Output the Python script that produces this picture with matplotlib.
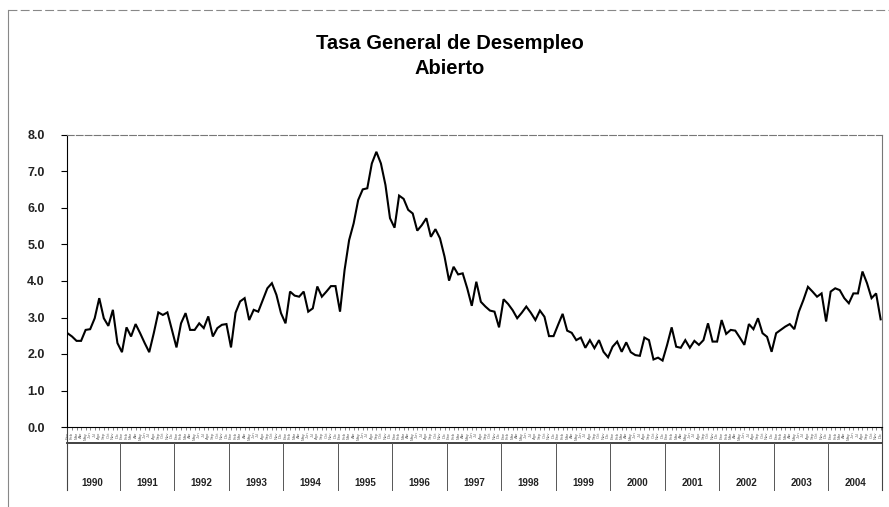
import numpy as np
import matplotlib
matplotlib.use('Agg')
import matplotlib.pyplot as plt
from matplotlib.lines import Line2D

plt.rcParams['font.family'] = ['Liberation Sans', 'DejaVu Sans']

# Tasa general de desempleo abierto, mensual 1990-2004
years = [str(y) for y in range(1990, 2005)]
meses = ['Ene', 'Feb', 'Mar', 'Abr', 'May', 'Jun', 'Jul', 'Ago', 'Sep', 'Oct', 'Nov', 'Dic']

tasa = [
    2.57, 2.48, 2.36, 2.36, 2.66, 2.68, 2.98, 3.53, 2.98, 2.77, 3.21, 2.30,  # 1990
    2.05, 2.73, 2.48, 2.82, 2.57, 2.30, 2.05, 2.57, 3.14, 3.07, 3.14, 2.66,  # 1991
    2.18, 2.84, 3.12, 2.66, 2.66, 2.84, 2.71, 3.03, 2.48, 2.71, 2.80, 2.82,  # 1992
    2.18, 3.13, 3.44, 3.53, 2.93, 3.21, 3.16, 3.48, 3.80, 3.94, 3.62, 3.12,  # 1993
    2.84, 3.71, 3.60, 3.57, 3.71, 3.16, 3.25, 3.85, 3.57, 3.71, 3.86, 3.86,  # 1994
    3.16, 4.30, 5.12, 5.58, 6.22, 6.51, 6.54, 7.22, 7.54, 7.22, 6.63, 5.72,  # 1995
    5.46, 6.34, 6.25, 5.95, 5.85, 5.38, 5.53, 5.72, 5.21, 5.42, 5.17, 4.67,  # 1996
    4.01, 4.39, 4.18, 4.21, 3.80, 3.32, 3.98, 3.43, 3.30, 3.19, 3.16, 2.73,  # 1997
    3.50, 3.37, 3.20, 2.98, 3.13, 3.30, 3.13, 2.93, 3.19, 3.02, 2.49, 2.49,  # 1998
    2.80, 3.10, 2.64, 2.58, 2.38, 2.45, 2.17, 2.38, 2.16, 2.38, 2.06, 1.91,  # 1999
    2.20, 2.34, 2.06, 2.32, 2.05, 1.97, 1.95, 2.45, 2.38, 1.85, 1.90, 1.82,  # 2000
    2.25, 2.73, 2.20, 2.17, 2.38, 2.17, 2.36, 2.25, 2.38, 2.84, 2.34, 2.34,  # 2001
    2.93, 2.55, 2.66, 2.64, 2.45, 2.25, 2.82, 2.68, 2.98, 2.57, 2.47, 2.06,  # 2002
    2.57, 2.66, 2.75, 2.82, 2.68, 3.16, 3.48, 3.84, 3.71, 3.57, 3.66, 2.89,  # 2003
    3.71, 3.80, 3.75, 3.53, 3.39, 3.66, 3.66, 4.26, 3.94, 3.53, 3.66, 2.95,  # 2004
]

W, H = 889, 507
fig = plt.figure(figsize=(W/100, H/100), dpi=100)
ax = fig.add_axes([67/W, 1-427/H, (882-67)/W, (427-135)/H])

x = np.arange(len(tasa))
ax.plot(x, tasa, color='black', lw=1.5, solid_joinstyle='miter')
ax.set_xlim(-0.1, len(tasa)-0.7)
ax.set_ylim(0, 8)

# eje y
ax.set_yticks(np.arange(0, 9, 1))
ax.set_yticklabels(['%.1f' % v for v in np.arange(0, 9, 1)])
ax.tick_params(axis='y', direction='out', length=4, width=0.8, pad=12, labelsize=9)
for lab in ax.get_yticklabels():
    lab.set_fontweight('bold')
    lab.set_color('#222222')

# eje x: meses (etiquetas diminutas, como en el original)
ax.set_xticks(x)
ax.set_xticklabels(meses*len(years), rotation=90)
ax.tick_params(axis='x', direction='out', length=2, width=0.5, pad=1.5, labelsize=3,
               labelcolor='#666666', color='#555555')

# marco del area de grafica
ax.spines['top'].set_color('#777777')
ax.spines['top'].set_linestyle((0, (6, 2)))
ax.spines['top'].set_linewidth(0.8)
ax.spines['right'].set_color('#777777')
ax.spines['right'].set_linewidth(0.8)
ax.spines['left'].set_linewidth(0.8)
ax.spines['bottom'].set_linewidth(0.8)

# segundo nivel del eje de categorias (anios)
trans = ax.get_xaxis_transform()
ax.plot([0, 1], [-0.055, -0.055], transform=ax.transAxes, clip_on=False, color='#333333', lw=1.3)
ax.plot([0, 0], [0, -0.216], transform=ax.transAxes, clip_on=False, color='#444444', lw=0.8)
ax.plot([1, 1], [0, -0.216], transform=ax.transAxes, clip_on=False, color='#444444', lw=0.8)
for k in range(1, len(years)):
    ax.plot([12*k-0.5, 12*k-0.5], [-0.055, -0.216], transform=trans, clip_on=False,
            color='#555555', lw=0.7)
for k, yr in enumerate(years):
    ax.text(12*k+5.5, -0.192, yr, transform=trans, ha='center', va='center',
            fontsize=7, fontweight='bold', color='#222222')

# titulo
fig.text(450/W, 1-56/H, 'Tasa General de Desempleo\nAbierto', ha='center', va='center',
         fontsize=14.5, fontweight='bold', linespacing=1.4)

# borde del area del grafico
fig.add_artist(Line2D([8/W, 8/W], [0, 1-10/H], color='#888888', lw=0.8))
fig.add_artist(Line2D([8/W, 1], [1-10/H, 1-10/H], color='#888888', lw=0.8, ls=(0, (8, 3))))

fig.savefig('out.png', dpi=100)
